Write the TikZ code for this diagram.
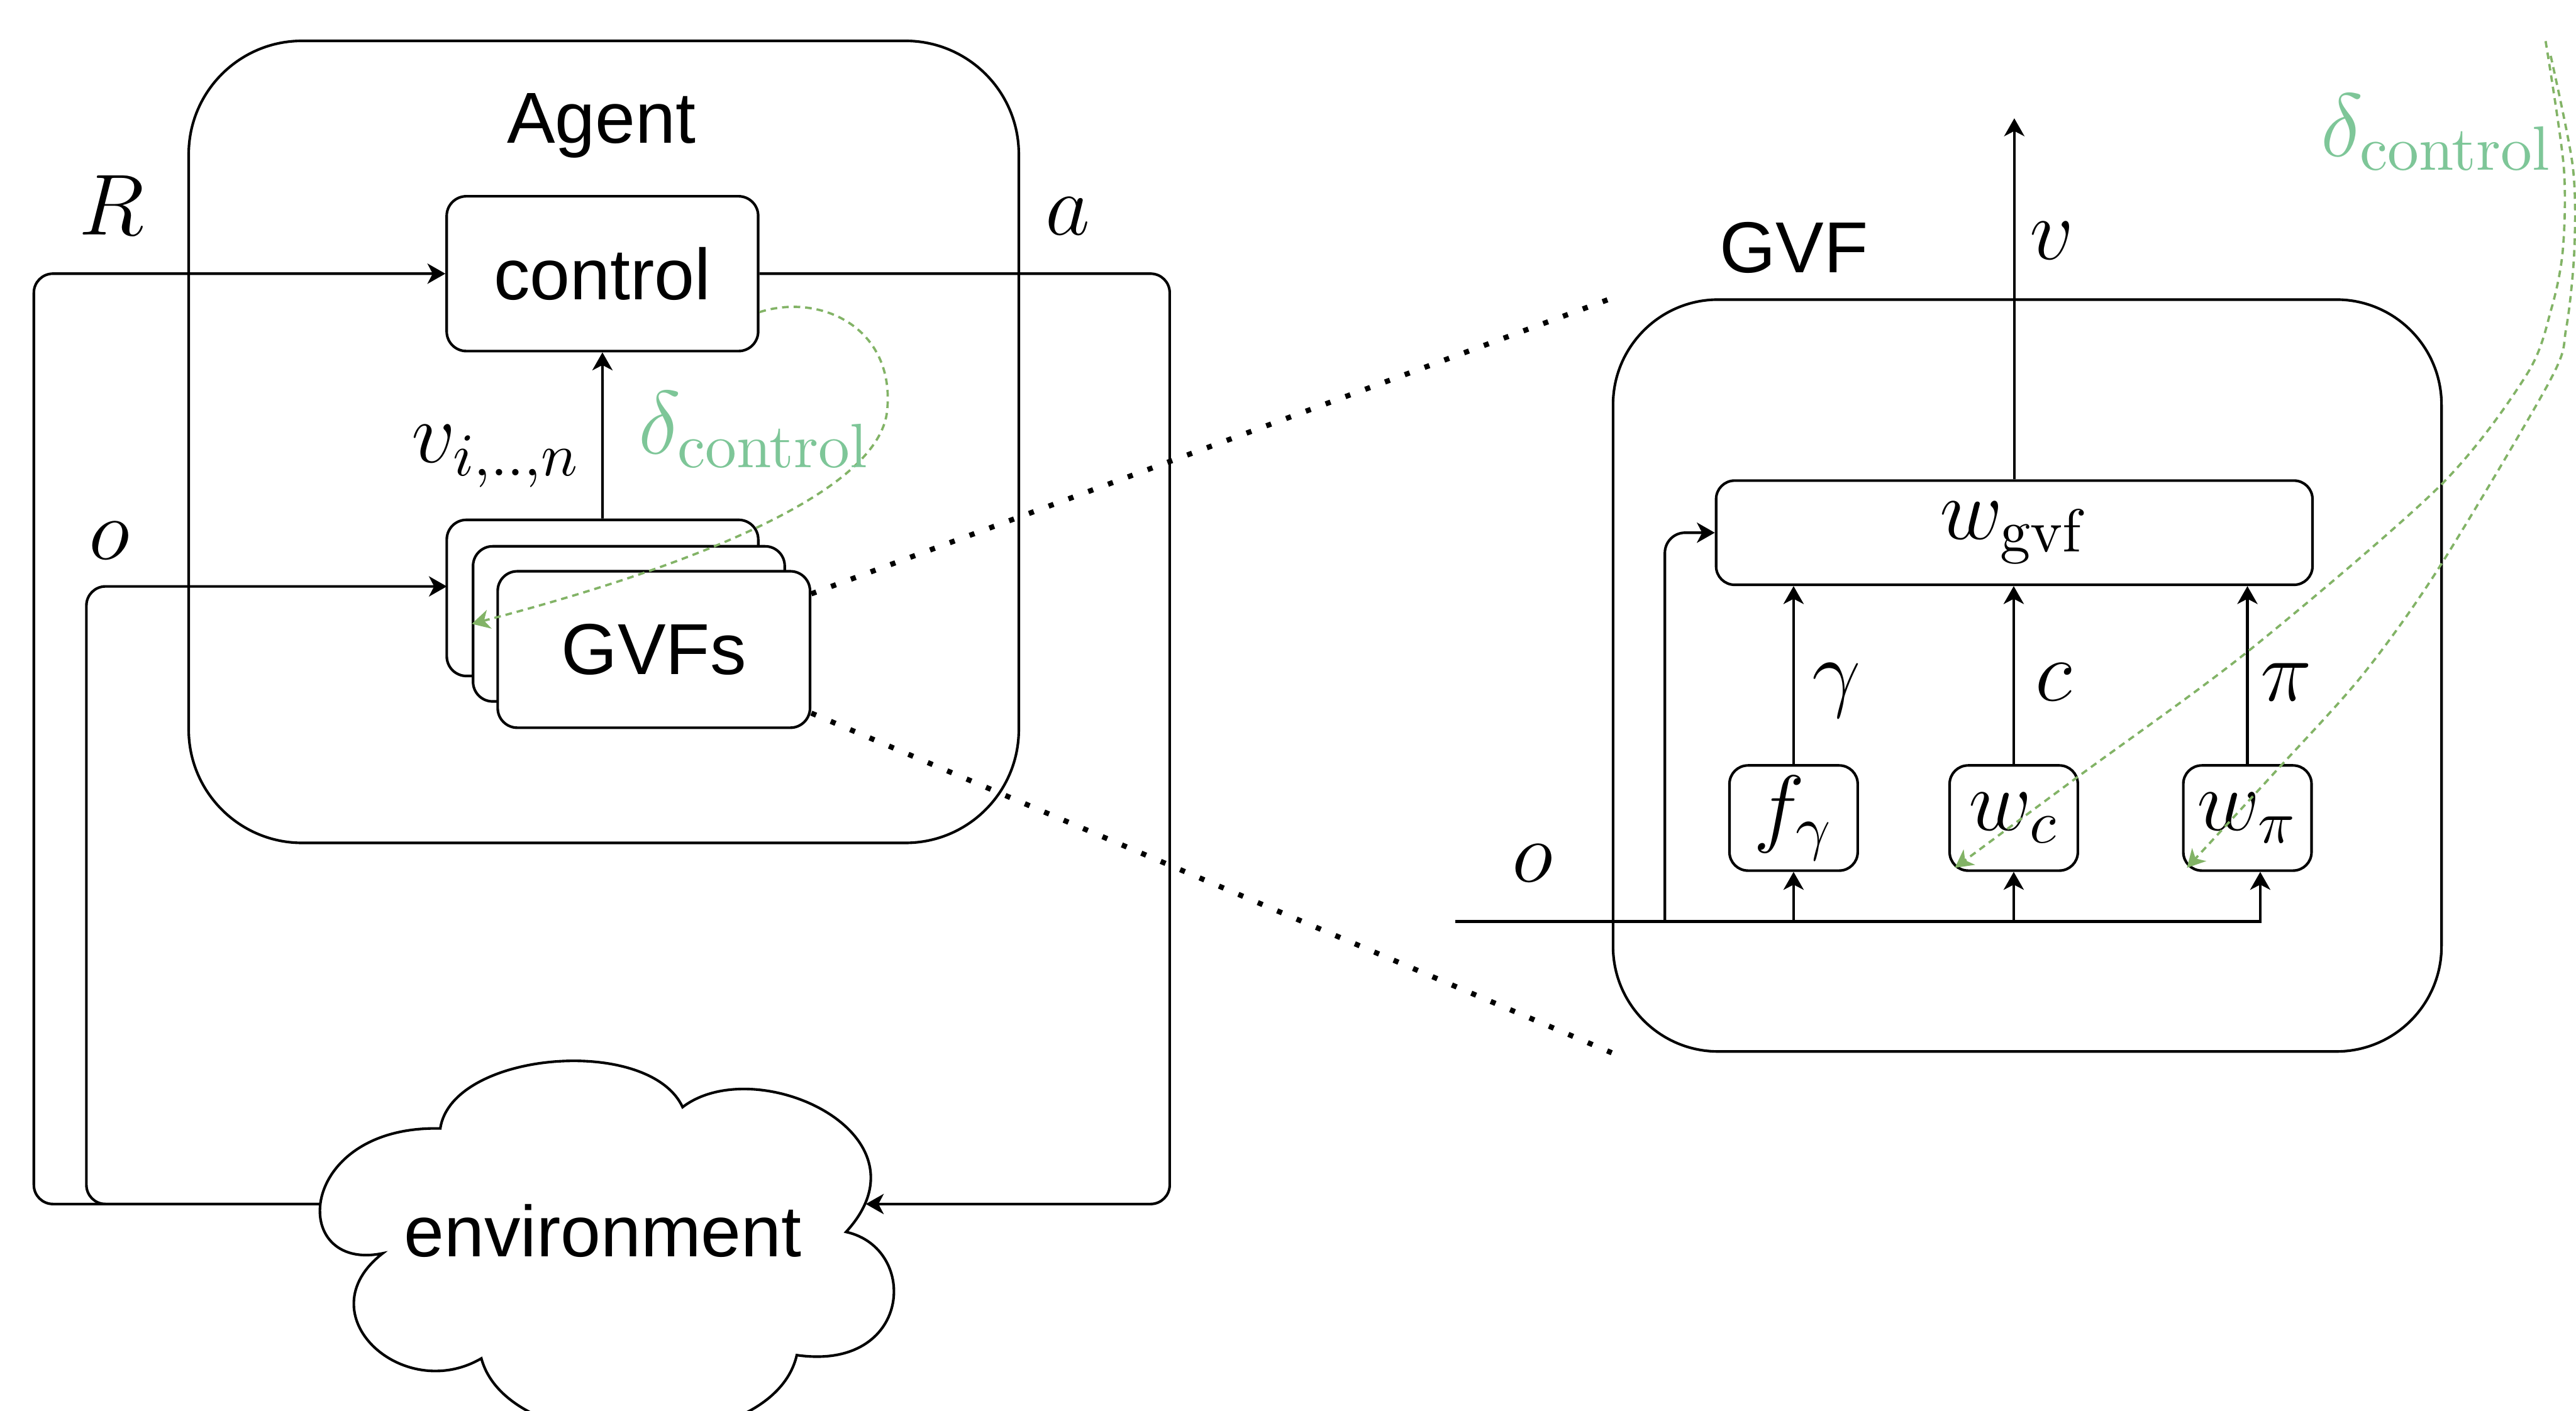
\RequirePackage{fix-cm}
\documentclass[tikz,border=0pt]{standalone}
\usepackage[no-math]{fontspec}
\newfontfamily\sfarial{Liberation Sans}
\usetikzlibrary{arrows.meta,calc}
\definecolor{gtext}{RGB}{126,198,152}
\definecolor{gline}{RGB}{130,179,102}
\newcommand\labfont{\sfarial\fontsize{12.5}{15}\selectfont}
\newcommand\mathfont{\fontsize{15}{18}\selectfont}
\newcommand\greenfont{\fontsize{15.5}{18}\selectfont}
\begin{document}
\begin{tikzpicture}[x=0.01cm,y=-0.01cm,
  ln/.style={line width=0.45pt},
  arr/.style={ln,-{Stealth[length=3.1pt,width=3.5pt,inset=0.9pt]}},
  rbox/.style={draw,line width=0.45pt,rounded corners=3.4pt,fill=white,inner sep=0pt},
  bigbox/.style={draw,line width=0.45pt,inner sep=0pt},
  sflab/.style={font=\labfont,inner sep=0pt},
  mlab/.style={font=\mathfont,inner sep=0pt},
  glab/.style={font=\greenfont,inner sep=0pt,text=gtext},
  gdash/.style={draw=gline,line width=0.4pt,dash pattern=on 1.15pt off 0.85pt},
  garr/.style={gdash,-{Stealth[length=3.1pt,width=3.3pt,inset=0.9pt]}},
  dotl/.style={line width=0.9pt,dash pattern=on 0.9pt off 2.75pt},
]
\useasboundingbox (0,0) rectangle (1568,859);
\clip (0,0) rectangle (1568,859);

% ---------- Agent ----------
\node[bigbox,rounded corners=0.69cm,minimum width=5.05cm,minimum height=4.88cm] (agent) at (367.5,269) {};
\node[sflab,anchor=base] (agentlab) at (366,87) {Agent};

\node[rbox,font=\labfont,minimum width=1.895cm,minimum height=0.942cm] (ctrl) at (366.7,166.6) {control};

\coordinate (envL) at (195.5,733);
\coordinate (envR) at (527,733);
\coordinate (oin) at (272,357);
\coordinate (Rx) at (20.6,500);
\coordinate (ox) at (52.6,500);
\coordinate (ax) at (712,500);

\draw[arr,rounded corners=3.3pt] (envL) -| (Rx) |- (ctrl.west);
\draw[arr,rounded corners=3.3pt] (envL) -| (ox) |- (oin);
\draw[arr,rounded corners=3.3pt] (ctrl.east) -| (ax) |- (envR);

\node[rbox,minimum width=1.895cm,minimum height=0.95cm] (back) at (366.75,364) {};
\node[rbox,minimum width=1.896cm,minimum height=0.944cm] (mid) at (382.8,379.8) {};
\node[rbox,font=\labfont,minimum width=1.9cm,minimum height=0.952cm] (front) at (398,395.4) {GVFs};

\draw[arr] (back.north) -- (ctrl.south);

\node[mlab,anchor=base] (Rlab) at (68,143) {$R$};
\node[mlab,anchor=base] (alab) at (650,143) {$a$};
\node[mlab,anchor=base] (olab) at (66.4,340.5) {$o$};
\node[mlab,anchor=base west] (vlab) at (250,281.7) {$v_{i,..,n}$};

\draw[garr] ($(ctrl.east)+(0,23.4)$) .. controls (500,178) and (545,200) .. (540,250)
  .. controls (535,300) and (420,345) .. (mid.west);
\node[glab,anchor=base west] (dl1) at (388,276.3) {$\delta_{\mathrm{control}}$};

% ---------- GVF detail ----------
\node[bigbox,rounded corners=0.64cm,minimum width=5.04cm,minimum height=4.575cm] (gvfbox) at (1234,411.25) {};
\node[sflab,anchor=base] (gvflab) at (1092,166) {GVF};

\draw[dotl] ($(front.north east)!0.15!(front.south east)$) -- (gvfbox.north west);
\draw[dotl] ($(front.north east)!0.9!(front.south east)$) -- (gvfbox.south west);

\node[rbox,mlab,rounded corners=3.2pt,minimum width=3.628cm,minimum height=0.634cm] (wgvf) at (1226.1,324.3) {$w_{\mathrm{gvf}}$};
\node[rbox,mlab,rounded corners=3.2pt,minimum width=0.78cm,minimum height=0.64cm] (fg) at (1091.75,498) {$f_\gamma$};
\node[rbox,mlab,rounded corners=3.2pt,minimum width=0.78cm,minimum height=0.64cm] (wc) at (1225.75,498) {$w_c$};
\node[rbox,mlab,rounded corners=3.2pt,minimum width=0.78cm,minimum height=0.64cm] (wp) at (1368,498) {$w_\pi$};

\draw[arr] (fg.north) -- (fg.north |- wgvf.south);
\draw[arr] (wc.north) -- (wc.north |- wgvf.south);
\draw[arr] (wp.north) -- (wp.north |- wgvf.south);

\coordinate (vtop) at (1226.1,72);
\draw[arr] (wgvf.north) -- (vtop);

\node[mlab,anchor=base] (vout) at (1249,158) {$v$};
\node[mlab,anchor=base] (glab) at (1118,426.5) {$\gamma$};
\node[mlab,anchor=base] (clab) at (1250,426.5) {$c$};
\node[mlab,anchor=base] (pilab) at (1391.5,426.5) {$\pi$};
\node[mlab,anchor=base] (orlab) at (933,537) {$o$};

\coordinate (ostart) at (886,561);
\coordinate (wpin) at ($(wp.south)+(7.8,0)$);
\coordinate (obr) at (1013.4,561);
\draw[arr] (ostart) -| (wpin);
\draw[arr] (fg.south |- ostart) -- (fg.south);
\draw[arr] (wc.south |- ostart) -- (wc.south);
\draw[arr,rounded corners=3.5pt] (obr) |- (wgvf.west);

\coordinate (dA) at (1549.5,25);
\coordinate (dB) at (1552.6,34);
\coordinate (wcin) at ($(wc.south west)+(4,-2.5)$);
\coordinate (wpgin) at ($(wp.south west)+(3,-2.5)$);
\draw[garr] plot[smooth] coordinates {(dA) (1560.5,101) (1560,152) (1553,188) (1538,228) (1485,296) (1369,396) (1266,472) (wcin)};
\draw[garr] plot[smooth] coordinates {(dB) (1566,101) (1567,152) (1562,200) (1552,232) (1485,345) (1438,411) (1383,472) (wpgin)};
\node[glab,anchor=base west] (dl2) at (1412,95.3) {$\delta_{\mathrm{control}}$};

% ---------- environment cloud ----------
\draw[ln,fill=white] (233,763) .. controls (175,775) and (180,685) .. (268,687)
  .. controls (275,640) and (395,630) .. (415.5,674)
  .. controls (460,640) and (570,690) .. (515,750)
  .. controls (560,760) and (555,835) .. (485,825)
  .. controls (470,890) and (310,890) .. (293,827)
  .. controls (245,855) and (185,800) .. cycle;
\node[sflab,anchor=base] (env) at (367,765) {environment};
\end{tikzpicture}
\end{document}
